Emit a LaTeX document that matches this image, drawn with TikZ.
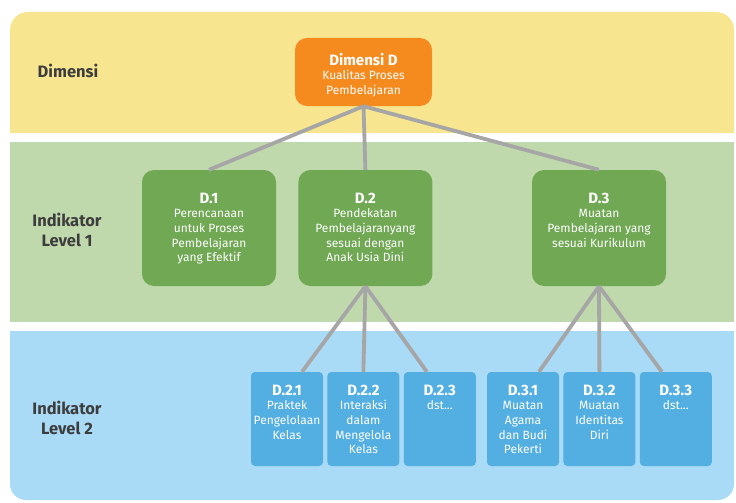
\documentclass[tikz,border=0pt]{standalone}
\usepackage{fontspec}
\setmainfont{Fira Sans}
\usetikzlibrary{positioning}

\definecolor{bandyellow}{HTML}{F7E68F}
\definecolor{bandgreen}{HTML}{BFD9AD}
\definecolor{bandblue}{HTML}{A9DAF6}
\definecolor{dimorange}{HTML}{F58A1F}
\definecolor{indgreen}{HTML}{70A854}
\definecolor{subblue}{HTML}{53AEE1}
\definecolor{linkgray}{HTML}{A6A6A6}
\definecolor{labelgray}{HTML}{3D3D3D}

% width, height, top pad, title, body
\newcommand{\cardtext}[5]{\parbox[c][#2][t]{#1}{\centering\vspace*{#3}%
  {\fontsize{15}{15}\selectfont\bfseries #4\par}%
  {\fontsize{12}{14.6}\selectfont #5\par}}}

\begin{document}
\begin{tikzpicture}
	[x=1pt, y=-1pt,
	rowlabel/.style={text=labelgray, font=\fontsize{16.5}{20}\selectfont\bfseries, align=center},
	dimbox/.style={fill=dimorange, rounded corners=12pt, inner sep=0pt, text=white},
	indbox/.style={fill=indgreen, rounded corners=12pt, inner sep=0pt, text=white},
	subbox/.style={fill=subblue, rounded corners=4pt, inner sep=0pt, text=white},
	link/.style={draw=linkgray, line width=3.8pt}
	]
	
	%Set params
	\def\indgap{22pt}
	\def\subgap{4pt}
	
	\useasboundingbox (0,0) rectangle (736,503);
	
	%Bands
	\fill[bandyellow] (10,133) [rounded corners=18pt] -- (10,12) -- (734,12) [sharp corners] -- (734,133) -- cycle;
	\fill[bandgreen] (10,142) rectangle (734,322);
	\fill[bandblue] (10,331) [rounded corners=16pt] -- (10,500) -- (734,500) [sharp corners] -- (734,331) -- cycle;
	
	\node(LabDim)[rowlabel] at (68,71) {Dimensi};
	\node(LabInd1)[rowlabel] at (67,230) {Indikator\\Level 1};
	\node(LabInd2)[rowlabel] at (67,418) {Indikator\\Level 2};
	
	%Dimensi
	\node(DimD)[dimbox] at (363.5,72) {\cardtext{137pt}{68pt}{15pt}{Dimensi D}{Kualitas Proses\\Pembelajaran}};
	
	%Indikator level 1
	\node(D1)[indbox] at (209,228) {\cardtext{134pt}{116pt}{23pt}{D.1}{Perencanaan\\untuk Proses\\Pembelajaran\\yang Efektif}};
	\node(D2)[indbox, right = \indgap of D1] {\cardtext{134pt}{116pt}{23pt}{D.2}{Pendekatan\\Pembelajaranyang\\sesuai dengan\\Anak Usia Dini}};
	\node(D3)[indbox] at (599,228) {\cardtext{134pt}{116pt}{23pt}{D.3}{Muatan\\Pembelajaran yang\\sesuai Kurikulum}};
	
	%Indikator level 2
	\node(D21)[subbox] at (287,419) {\cardtext{72pt}{94pt}{13pt}{D.2.1}{Praktek\\Pengelolaan\\Kelas}};
	\node(D22)[subbox, right = \subgap of D21] {\cardtext{72pt}{94pt}{13pt}{D.2.2}{Interaksi\\dalam\\Mengelola\\Kelas}};
	\node(D23)[subbox, right = \subgap of D22] {\cardtext{72pt}{94pt}{13pt}{D.2.3}{dst...}};
	\node(D31)[subbox] at (523,419) {\cardtext{72pt}{94pt}{13pt}{D.3.1}{Muatan\\Agama\\dan Budi\\Pekerti}};
	\node(D32)[subbox, right = \subgap of D31] {\cardtext{72pt}{94pt}{13pt}{D.3.2}{Muatan\\Identitas\\Diri}};
	\node(D33)[subbox, right = \subgap of D32] {\cardtext{72pt}{94pt}{13pt}{D.3.3}{dst...}};
	
	%Links
	\foreach \child in {D1,D2,D3}
		\draw[link] (DimD.south) -- (\child.north);
	\draw[link] (D2.south) -- ([xshift=15pt]D21.north);
	\draw[link] (D2.south) -- (D22.north);
	\draw[link] (D2.south) -- ([xshift=-13pt]D23.north);
	\draw[link] (D3.south) -- ([xshift=16pt]D31.north);
	\draw[link] (D3.south) -- (D32.north);
	\draw[link] (D3.south) -- ([xshift=-14pt]D33.north);
	
\end{tikzpicture}
\end{document}
